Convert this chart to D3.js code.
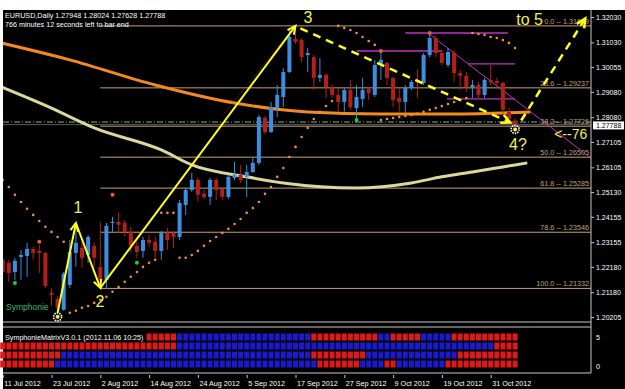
<!DOCTYPE html>
<html>
<head>
<meta charset="utf-8">
<script src="https://cdn.jsdelivr.net/npm/d3@7"></script>
<style>
  html, body { margin: 0; padding: 0; background: #fff; }
  svg { display: block; }
  text { font-family: "Liberation Sans", Arial, sans-serif; }
</style>
</head>
<body>
<svg></svg>
<script>
// ---- data ----
const tickLabels = ["11 Jul 2012", "23 Jul 2012", "2 Aug 2012", "14 Aug 2012", "24 Aug 2012", "5 Sep 2012",
    "17 Sep 2012", "27 Sep 2012", "9 Oct 2012", "19 Oct 2012", "31 Oct 2012"];
const tickBars = [0, 8, 16, 24, 32, 40, 48, 56, 64, 72, 80];

const opens = [1.2246, 1.2234, 1.2198, 1.2257, 1.2261, 1.2289, 1.2281, 1.2273, 1.2116, 1.2092,
    1.2049, 1.2147, 1.2273, 1.2293, 1.2265, 1.2301, 1.2218, 1.2167, 1.2391, 1.2395,
    1.2391, 1.2356, 1.2301, 1.2281, 1.2324, 1.2317, 1.2281, 1.2352, 1.2352, 1.2336,
    1.2462, 1.2521, 1.2561, 1.2506, 1.2494, 1.2561, 1.2525, 1.2494, 1.2569, 1.2581,
    1.2573, 1.2592, 1.2628, 1.2805, 1.2750, 1.2844, 1.2888, 1.2986, 1.3116, 1.3112,
    1.3053, 1.3045, 1.2963, 1.2975, 1.2927, 1.2896, 1.2868, 1.2915, 1.2844, 1.2880,
    1.2919, 1.2896, 1.3014, 1.3022, 1.2963, 1.2884, 1.2868, 1.2923, 1.2955, 1.2943,
    1.3053, 1.3120, 1.3061, 1.3014, 1.3061, 1.2982, 1.2971, 1.2927, 1.2935, 1.2896,
    1.2955, 1.2951, 1.2943, 1.2829, 1.27948];
const highs = [1.2254, 1.2246, 1.2254, 1.2285, 1.2313, 1.2297, 1.2305, 1.2277, 1.2135, 1.2104,
    1.2198, 1.2324, 1.2391, 1.2317, 1.2344, 1.2313, 1.2395, 1.2391, 1.2415, 1.2435,
    1.2403, 1.2376, 1.2317, 1.2336, 1.2344, 1.2336, 1.2360, 1.2372, 1.2360, 1.2482,
    1.2529, 1.2589, 1.2569, 1.2521, 1.2569, 1.2569, 1.2529, 1.2581, 1.2632, 1.2620,
    1.2620, 1.2648, 1.2817, 1.2813, 1.2868, 1.2935, 1.3002, 1.3160, 1.3168, 1.3120,
    1.3081, 1.3053, 1.3041, 1.2982, 1.2935, 1.2923, 1.2923, 1.2955, 1.2935, 1.2963,
    1.2927, 1.3034, 1.3073, 1.3026, 1.2967, 1.2923, 1.2935, 1.2955, 1.2994, 1.3061,
    1.3140, 1.3128, 1.3073, 1.3081, 1.3073, 1.2994, 1.2986, 1.2955, 1.2947, 1.2963,
    1.3014, 1.2963, 1.2947, 1.2844, 1.28024];
const lows = [1.2187, 1.2159, 1.2167, 1.2167, 1.2179, 1.2246, 1.2194, 1.2135, 1.2064, 1.2037,
    1.2045, 1.2135, 1.2218, 1.2214, 1.2234, 1.2218, 1.2135, 1.2131, 1.2356, 1.2352,
    1.2336, 1.2277, 1.2254, 1.2254, 1.2297, 1.2254, 1.2246, 1.2285, 1.2293, 1.2324,
    1.2423, 1.2514, 1.2474, 1.2486, 1.2462, 1.2482, 1.2482, 1.2486, 1.2561, 1.2549,
    1.2494, 1.2589, 1.2620, 1.2742, 1.2746, 1.2809, 1.2848, 1.2982, 1.3097, 1.3026,
    1.2986, 1.2915, 1.2947, 1.2884, 1.2884, 1.2829, 1.2829, 1.2837, 1.2797, 1.2848,
    1.2876, 1.2888, 1.2955, 1.2935, 1.2848, 1.2829, 1.2825, 1.2915, 1.2884, 1.2935,
    1.3045, 1.3045, 1.3014, 1.3006, 1.2947, 1.2915, 1.2907, 1.2884, 1.2884, 1.2884,
    1.2935, 1.2923, 1.2825, 1.2789, 1.27628];
const closes = [1.2198, 1.2194, 1.2242, 1.2265, 1.2289, 1.2273, 1.2273, 1.2143, 1.2108, 1.2057,
    1.2191, 1.2277, 1.2313, 1.2254, 1.2336, 1.2254, 1.2167, 1.2380, 1.2395, 1.2384,
    1.2356, 1.2301, 1.2277, 1.2324, 1.2313, 1.2281, 1.2352, 1.2324, 1.2336, 1.2470,
    1.2521, 1.2561, 1.2502, 1.2494, 1.2561, 1.2521, 1.2494, 1.2573, 1.2581, 1.2561,
    1.2592, 1.2628, 1.2809, 1.2750, 1.2848, 1.2896, 1.2986, 1.3124, 1.3105, 1.3045,
    1.3061, 1.2963, 1.2975, 1.2927, 1.2896, 1.2868, 1.2915, 1.2848, 1.2888, 1.2915,
    1.2904, 1.3014, 1.3034, 1.2963, 1.2876, 1.2868, 1.2923, 1.2947, 1.2943, 1.3053,
    1.3120, 1.3061, 1.3022, 1.3065, 1.2982, 1.2971, 1.2927, 1.2935, 1.2896, 1.2955,
    1.2947, 1.2943, 1.2837, 1.2801, 1.27788];

// parabolic SAR, one dot per bar
const sar = [1.2561, 1.2533, 1.2502, 1.2474, 1.2447, 1.2423, 1.2399, 1.2376, 1.2356, 1.2336,
    1.2317, 1.2037, 1.2045, 1.2057, 1.2064, 1.2076, 1.2088, 1.2100, 1.2120, 1.2139,
    1.2159, 1.2179, 1.2198, 1.2218, 1.2234, 1.2246, 1.2431, 1.2431, 1.2431, 1.2254,
    1.2254, 1.2265, 1.2281, 1.2301, 1.2320, 1.2336, 1.2352, 1.2368, 1.2387, 1.2407,
    1.2431, 1.2450, 1.2474, 1.2506, 1.2533, 1.2573, 1.2608, 1.2651, 1.2691, 1.2730,
    1.2766, 1.2801, 1.2829, 1.2852, 1.2872, 1.3168, 1.3160, 1.3152, 1.3140, 1.3124,
    1.3108, 1.3093, 1.2797, 1.2801, 1.2805, 1.2809, 1.2813, 1.2817, 1.2821, 1.2829,
    1.2837, 1.2844, 1.2852, 1.2860, 1.2868, 1.2876, 1.2884, 1.3140, 1.3136, 1.3132,
    1.3124, 1.3120, 1.3112, 1.3101, 1.3081];

// moving averages, [bar, price] read at a few points
const maOrange = [[-1, 1.3105], [11, 1.3034], [25, 1.2935], [38, 1.2864], [50, 1.2829],
    [62, 1.2821], [74, 1.2821], [86.5, 1.2829]];
const maKhaki = [[-1, 1.2935], [8, 1.2844], [15, 1.2766], [26, 1.2679], [31, 1.2620], [40, 1.2573],
    [46, 1.2549], [58, 1.2529], [67, 1.2549], [72, 1.2573], [77, 1.2592], [82, 1.2612], [86, 1.2628]];

const priceTicks = [1.32030, 1.31030, 1.30055, 1.29080, 1.28080, 1.27105, 1.26105, 1.25130,
    1.24155, 1.23155, 1.22180, 1.21180, 1.20205];
const lastPrice = 1.27788;
const dashLevel = 1.2789;

const fibLevels = [0.0, 23.6, 38.2, 50.0, 61.8, 78.6, 100.0];
const fibPrices = [1.31679, 1.29237, 1.27726, 1.26505, 1.25285, 1.23546, 1.21332];
const fibStartBar = 16;

// wave count annotations
const wavePoints = [[9, 1.2037], [12, 1.2391], [16, 1.2135], [48, 1.3168]];
const waveLabels = [["1", 11.6, 1.2430, 16], ["2", 15.2, 1.2060, 16], ["3", 49.3, 1.3180, 16],
    ["4?", 83.0, 1.2677, 16], ["to 5", 84.2, 1.3170, 16], ["<--76", 90.4, 1.2724, 14]];
const dashTo4 = [[48.8, 1.3158], [83.2, 1.2787]];
const dashTo5 = [[85.0, 1.2795], [95.5, 1.3197]];
const dottedRed = [[36, 1.2815], [48, 1.3168]];

// magenta lines: [startBar, endBar, price]
const magentaLevels = [[66, 82.8, 1.3140], [58, 72, 1.3069], [76.3, 84, 1.3018], [72.8, 84, 1.2880]];
const magentaDiag = [[69.7, 1.3140], [96.6, 1.2644]];

const fractalUp = [[6, 1.2317], [18, 1.2502], [62, 1.3069], [70, 1.3140]];
const fractalDown = [[2, 1.2155], [22, 1.2234], [58, 1.2797]];
const sunMarks = [[9, 1.2021], [84, 1.2760]];

const matrixName = "SymphonieMatrixV3.0.1 (2012.11.06 10:25)";
const matrixRows = [
    "........................RRRRRBBBBBBBBBBBBBBBBBBBBBBRRRRRRRRRRRBBRRRRRBBBBBRRRRRRRRRRR",
    "RRRRRRRRRRRRRRRRRRRRRRRRRRRRRBBBBBBBBBBBBBBBBBBBBBBBBBBBBBBBBBBBBBBBBBBBBBBBBBBBBRRRR",
    "RRRRRRRRRRBBBBBBBBBBBBBBBBBBBBBBBBBBBBBBBBBBBBBBBBBRRRRRRRRRBBBBBBBBBBBBBBBRRRRRRRRRR",
    "RRRRRRRRRBBBBBBBBBBBBBBBBBBBBBBBBBBBBBBBBBBBBBBBBBBBRRRRRRRBBBBRRBBBBBBBBRRRRRRRRRRRR"
];

// ---- drawing ----
const width = 625, height = 389;
const main = { left: 3, right: 591, top: 10, bottom: 322 };
const sub = { top: 327, bottom: 373 };

const svg = d3.select("svg").attr("width", width).attr("height", height);

const x = d3.scaleLinear().domain([0, 84]).range([2.7, 515.1]);
const y = d3.scaleLinear().domain([1.20205, 1.32030]).range([317, 17]);

// background
svg.append("rect").attr("x", 3).attr("y", 10).attr("width", width - 3).attr("height", height - 10).attr("fill", "#000");

svg.append("defs").append("clipPath").attr("id", "clipMain")
    .append("rect").attr("x", main.left).attr("y", main.top)
    .attr("width", main.right - main.left).attr("height", main.bottom - main.top);

const g = svg.append("g").attr("clip-path", "url(#clipMain)");

// fib levels
const fibColor = "#c4a273";
fibPrices.forEach((p, i) => {
    g.append("line").attr("x1", x(fibStartBar)).attr("x2", main.right)
        .attr("y1", y(p)).attr("y2", y(p)).attr("stroke", fibColor).attr("stroke-width", 1);
    g.append("text").attr("x", 589).attr("y", y(p) - 2).attr("text-anchor", "end")
        .attr("fill", fibColor).style("font-size", "7.2px")
        .text(fibLevels[i].toFixed(1) + " -- " + p.toFixed(5));
});

// bid line and dash-dot level
g.append("line").attr("x1", main.left).attr("x2", main.right).attr("y1", y(lastPrice)).attr("y2", y(lastPrice))
    .attr("stroke", "#5a5a5a").attr("stroke-width", 1);
g.append("line").attr("x1", main.left).attr("x2", main.right).attr("y1", y(dashLevel)).attr("y2", y(dashLevel))
    .attr("stroke", "#7fb28a").attr("stroke-width", 1).attr("stroke-dasharray", "6,2,1,2");

// moving averages
const maLine = d3.line().x(d => x(d[0])).y(d => y(d[1])).curve(d3.curveMonotoneX);
g.append("path").attr("d", maLine(maKhaki)).attr("fill", "none").attr("stroke", "#dcd79a").attr("stroke-width", 3);
g.append("path").attr("d", maLine(maOrange)).attr("fill", "none").attr("stroke", "#f28a1e").attr("stroke-width", 3);

// magenta lines
magentaLevels.forEach(m => {
    g.append("line").attr("x1", x(m[0])).attr("x2", x(m[1])).attr("y1", y(m[2])).attr("y2", y(m[2]))
        .attr("stroke", "#c030c0").attr("stroke-width", 1.3);
});
g.append("line").attr("x1", x(magentaDiag[0][0])).attr("y1", y(magentaDiag[0][1]))
    .attr("x2", x(magentaDiag[1][0])).attr("y2", y(magentaDiag[1][1]))
    .attr("stroke", "#c030c0").attr("stroke-width", 1);

// dotted red line
g.append("line").attr("x1", x(dottedRed[0][0])).attr("y1", y(dottedRed[0][1]))
    .attr("x2", x(dottedRed[1][0])).attr("y2", y(dottedRed[1][1]))
    .attr("stroke", "#b3261e").attr("stroke-width", 1).attr("stroke-dasharray", "1,2");

// candles
const bars = opens.map((o, i) => ({ i, o, h: highs[i], l: lows[i], c: closes[i] }));
const candle = g.selectAll(".candle").data(bars).enter().append("g").attr("class", "candle");
const colorOf = d => d.c >= d.o ? "#3b8ee0" : "#b3201c";
candle.append("line")
    .attr("x1", d => x(d.i)).attr("x2", d => x(d.i))
    .attr("y1", d => y(d.h)).attr("y2", d => y(d.l))
    .attr("stroke", colorOf).attr("stroke-width", 1);
candle.append("rect")
    .attr("x", d => x(d.i) - 2).attr("width", 4)
    .attr("y", d => y(Math.max(d.o, d.c)))
    .attr("height", d => Math.max(1, Math.abs(y(d.o) - y(d.c))))
    .attr("fill", colorOf);

// SAR dots
g.selectAll(".sar").data(sar).enter().append("circle").attr("class", "sar")
    .attr("cx", (d, i) => x(i)).attr("cy", d => y(d)).attr("r", 1.3).attr("fill", "#f0903a");

// fractals
g.selectAll(".fup").data(fractalUp).enter().append("circle")
    .attr("cx", d => x(d[0])).attr("cy", d => y(d[1])).attr("r", 2).attr("fill", "#f05a3a");
g.selectAll(".fdn").data(fractalDown).enter().append("circle")
    .attr("cx", d => x(d[0])).attr("cy", d => y(d[1])).attr("r", 2).attr("fill", "#22cc33");

// wave arrows
const yellow = "#ffff22";
const arrowHead = (x1, y1, x2, y2, len) => {
    const a = Math.atan2(y2 - y1, x2 - x1);
    const p1 = [x2 - len * Math.cos(a - 0.45), y2 - len * Math.sin(a - 0.45)];
    const p2 = [x2 - len * Math.cos(a + 0.45), y2 - len * Math.sin(a + 0.45)];
    return `M${p1[0]},${p1[1]}L${x2},${y2}L${p2[0]},${p2[1]}`;
};
for (let k = 0; k < wavePoints.length - 1; k++) {
    const a = wavePoints[k], b = wavePoints[k + 1];
    g.append("line").attr("x1", x(a[0])).attr("y1", y(a[1])).attr("x2", x(b[0])).attr("y2", y(b[1]))
        .attr("stroke", yellow).attr("stroke-width", 2);
    g.append("path").attr("d", arrowHead(x(a[0]), y(a[1]), x(b[0]), y(b[1]), 9))
        .attr("fill", "none").attr("stroke", yellow).attr("stroke-width", 2);
}
[dashTo4, dashTo5].forEach(seg => {
    const a = seg[0], b = seg[1];
    g.append("line").attr("x1", x(a[0])).attr("y1", y(a[1])).attr("x2", x(b[0])).attr("y2", y(b[1]))
        .attr("stroke", yellow).attr("stroke-width", 2.5).attr("stroke-dasharray", "8,6");
    g.append("path").attr("d", arrowHead(x(a[0]), y(a[1]), x(b[0]), y(b[1]), 10))
        .attr("fill", "none").attr("stroke", yellow).attr("stroke-width", 2.5);
});
waveLabels.forEach(l => {
    g.append("text").attr("x", x(l[1])).attr("y", y(l[2])).attr("fill", "#f2f050")
        .style("font-size", l[3] + "px").text(l[0]);
});

// sun markers
sunMarks.forEach(s => {
    g.append("circle").attr("cx", x(s[0])).attr("cy", y(s[1])).attr("r", 4)
        .attr("fill", "none").attr("stroke", "#fff").attr("stroke-width", 1.6).attr("stroke-dasharray", "1.5,1");
    g.append("circle").attr("cx", x(s[0])).attr("cy", y(s[1])).attr("r", 2).attr("fill", "#ffee33");
});

g.append("text").attr("x", 6).attr("y", 310).attr("fill", "#3cb878").style("font-size", "8.5px").text("Symphonie");

// header
svg.append("text").attr("x", 5).attr("y", 18).attr("fill", "#fff").style("font-size", "7.2px")
    .text("EURUSD,Daily  1.27948 1.28024 1.27628 1.27788");
svg.append("text").attr("x", 5).attr("y", 26.5).attr("fill", "#fff").style("font-size", "7.2px")
    .text("766 minutes 12 seconds left to bar end");

// frame lines
const frame = "#c8c8c8";
svg.append("line").attr("x1", main.right).attr("x2", main.right).attr("y1", main.top).attr("y2", sub.bottom).attr("stroke", frame);
svg.append("line").attr("x1", main.left).attr("x2", main.right).attr("y1", main.bottom).attr("y2", main.bottom).attr("stroke", frame);
svg.append("line").attr("x1", main.left).attr("x2", main.right).attr("y1", sub.top).attr("y2", sub.top).attr("stroke", frame);
svg.append("line").attr("x1", main.left).attr("x2", main.right).attr("y1", sub.bottom).attr("y2", sub.bottom).attr("stroke", frame);

// price axis
const yAxis = d3.axisRight(y).tickValues(priceTicks).tickFormat(d3.format(".5f")).tickSize(3);
const ya = svg.append("g").attr("transform", `translate(${main.right},0)`).call(yAxis);
ya.select(".domain").remove();
ya.selectAll("line").attr("stroke", frame);
ya.selectAll("text").attr("fill", "#fff").attr("x", 5).style("font-size", "7px").style("font-family", "Liberation Sans");

svg.append("rect").attr("x", main.right + 2).attr("y", y(lastPrice) - 3.2).attr("width", 31).attr("height", 8).attr("fill", "#fff");
svg.append("text").attr("x", main.right + 5).attr("y", y(lastPrice) + 3.3).attr("fill", "#000")
    .style("font-size", "7px").text(lastPrice.toFixed(5));

// indicator sub window
const rowY = [337, 346, 355, 364];
matrixRows.forEach((row, r) => {
    const cells = row.split("").map((c, i) => ({ c, i })).filter(d => d.c !== ".");
    svg.selectAll(".cell" + r).data(cells).enter().append("rect")
        .attr("x", d => x(d.i) - 2.5).attr("y", rowY[r] - 3.5).attr("width", 5).attr("height", 7)
        .attr("fill", d => d.c === "R" ? "#e01818" : "#1a1ad0");
});
svg.append("text").attr("x", 5).attr("y", 340).attr("fill", "#fff").style("font-size", "7.2px").text(matrixName);
svg.append("text").attr("x", 596).attr("y", 340).attr("fill", "#fff").style("font-size", "7.2px").text("5");
svg.append("text").attr("x", 596).attr("y", 369).attr("fill", "#fff").style("font-size", "7.2px").text("0");

// time axis
const xAxis = d3.axisBottom(x).tickValues(tickBars).tickFormat((d, i) => tickLabels[i]).tickSize(3);
const xa = svg.append("g").attr("transform", `translate(0,${sub.bottom + 2})`).call(xAxis);
xa.select(".domain").remove();
xa.selectAll("line").attr("stroke", frame);
xa.selectAll("text").attr("fill", "#fff").attr("text-anchor", "start").attr("dx", 1).attr("y", 6)
    .style("font-size", "7.2px").style("font-family", "Liberation Sans");
</script>
</body>
</html>
